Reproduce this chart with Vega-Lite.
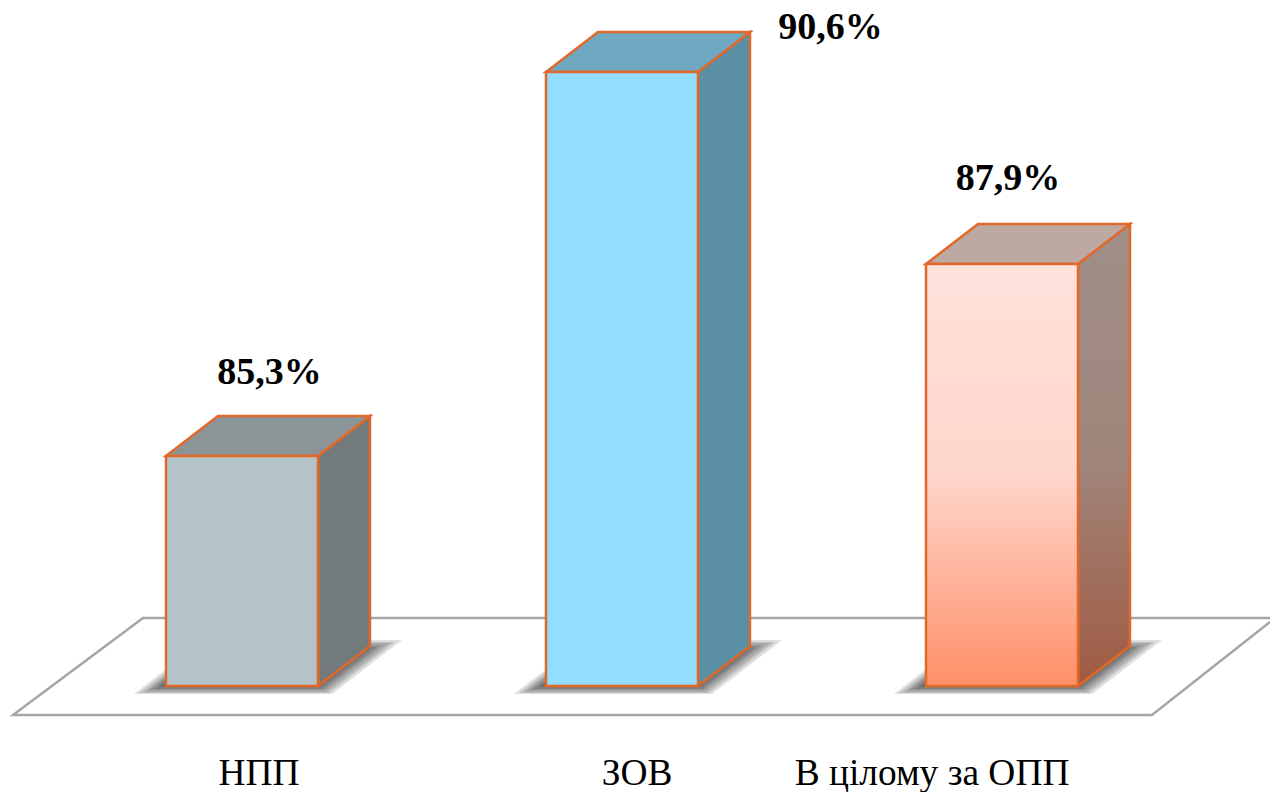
{"$schema":"https://vega.github.io/schema/vega-lite/v6.json","width":1270,"height":792,"padding":0,"autosize":{"type":"none"},"background":"white","config":{"view":{"stroke":null}},
"datasets":{
"floor":[{"o":1,"x":3.7053,"y":83.064},{"o":2,"x":0.7395,"y":83.064},{"o":3,"x":0.3974,"y":81.725},{"o":4,"x":3.3947,"y":81.725},{"o":5,"x":3.7053,"y":83.009}],
"shadow":[
{"ring":"1a","y":82.015,"left":0.7158,"right":1.2368},{"ring":"1a","y":82.76,"left":0.9,"right":1.4211},
{"ring":"1b","y":82.029,"left":0.7289,"right":1.2289},{"ring":"1b","y":82.733,"left":0.9026,"right":1.4026},
{"ring":"1c","y":82.043,"left":0.7421,"right":1.2211},{"ring":"1c","y":82.719,"left":0.9105,"right":1.3895},
{"ring":"1d","y":82.07,"left":0.7553,"right":1.2158},{"ring":"1d","y":82.691,"left":0.9092,"right":1.3697},
{"ring":"1e","y":82.084,"left":0.7684,"right":1.2105},{"ring":"1e","y":82.664,"left":0.9121,"right":1.3542},
{"ring":"1f","y":82.112,"left":0.7816,"right":1.2053},{"ring":"1f","y":82.65,"left":0.915,"right":1.3387},
{"ring":"2a","y":82.015,"left":1.7158,"right":2.2368},{"ring":"2a","y":82.76,"left":1.9,"right":2.4211},
{"ring":"2b","y":82.029,"left":1.7289,"right":2.2289},{"ring":"2b","y":82.733,"left":1.9026,"right":2.4026},
{"ring":"2c","y":82.043,"left":1.7421,"right":2.2211},{"ring":"2c","y":82.719,"left":1.9105,"right":2.3895},
{"ring":"2d","y":82.07,"left":1.7553,"right":2.2158},{"ring":"2d","y":82.691,"left":1.9092,"right":2.3697},
{"ring":"2e","y":82.084,"left":1.7684,"right":2.2105},{"ring":"2e","y":82.664,"left":1.9121,"right":2.3542},
{"ring":"2f","y":82.112,"left":1.7816,"right":2.2053},{"ring":"2f","y":82.65,"left":1.915,"right":2.3387},
{"ring":"3a","y":82.015,"left":2.7158,"right":3.2368},{"ring":"3a","y":82.76,"left":2.9,"right":3.4211},
{"ring":"3b","y":82.029,"left":2.7289,"right":3.2289},{"ring":"3b","y":82.733,"left":2.9026,"right":3.4026},
{"ring":"3c","y":82.043,"left":2.7421,"right":3.2211},{"ring":"3c","y":82.719,"left":2.9105,"right":3.3895},
{"ring":"3d","y":82.07,"left":2.7553,"right":3.2158},{"ring":"3d","y":82.691,"left":2.9092,"right":3.3697},
{"ring":"3e","y":82.084,"left":2.7684,"right":3.2105},{"ring":"3e","y":82.664,"left":2.9121,"right":3.3542},
{"ring":"3f","y":82.112,"left":2.7816,"right":3.2053},{"ring":"3f","y":82.65,"left":2.915,"right":3.3387}],
"front":[{"bar":"НПП","left":0.8,"right":1.2,"base":82.125,"top":85.3},{"bar":"ЗОВ","left":1.8,"right":2.2,"base":82.125,"top":90.6},{"bar":"В цілому за ОПП","left":2.8,"right":3.2,"base":82.125,"top":87.95}],
"side":[{"bar":"НПП","x":1.2,"lo":82.125,"hi":85.3},{"bar":"НПП","x":1.3368,"lo":82.677,"hi":85.852},{"bar":"ЗОВ","x":2.2,"lo":82.125,"hi":90.6},{"bar":"ЗОВ","x":2.3368,"lo":82.677,"hi":91.152},{"bar":"В цілому за ОПП","x":3.2,"lo":82.125,"hi":87.95},{"bar":"В цілому за ОПП","x":3.3368,"lo":82.677,"hi":88.502}],
"roof":[{"bar":"НПП","y":85.3,"left":0.8,"right":1.2},{"bar":"НПП","y":85.852,"left":0.9368,"right":1.3368},{"bar":"ЗОВ","y":90.6,"left":1.8,"right":2.2},{"bar":"ЗОВ","y":91.152,"left":1.9368,"right":2.3368},{"bar":"В цілому за ОПП","y":87.95,"left":2.8,"right":3.2},{"bar":"В цілому за ОПП","y":88.502,"left":2.9368,"right":3.3368}],
"values":[{"label":"85,3%","x":1.0724,"y":86.29},{"label":"90,6%","x":2.5487,"y":91.056},{"label":"87,9%","x":3.0158,"y":88.968}],
"cats":[{"label":"НПП","x":1.0447,"y":80.759},{"label":"ЗОВ","x":2.0395,"y":80.759},{"label":"В цілому за ОПП","x":2.8158,"y":80.759}]
},
"layer":[
{"data":{"name":"floor"},"mark":{"type":"line","color":"#A6A6A6","strokeWidth":2.5,"strokeJoin":"miter"},"encoding":{"x":{"field":"x","type":"quantitative","axis":null,"scale":{"domain":[0.36316,3.70526],"nice":false,"zero":false}},"y":{"field":"y","type":"quantitative","axis":null,"scale":{"domain":[80.662,91.594],"nice":false,"zero":false}},"order":{"field":"o","type":"quantitative"}}},
{"data":{"name":"shadow"},"mark":{"type":"area","orient":"horizontal","color":"#000000","opacity":0.13},"encoding":{"y":{"field":"y","type":"quantitative"},"x":{"field":"left","type":"quantitative"},"x2":{"field":"right"},"detail":{"field":"ring"}}},
{"data":{"name":"side"},"transform":[{"filter":"datum.bar==='НПП'"}],"mark":{"type":"area","color":"#727A7C","stroke":"#E2682A","strokeWidth":2.5},"encoding":{"x":{"field":"x","type":"quantitative"},"y":{"field":"lo","type":"quantitative"},"y2":{"field":"hi"}}},
{"data":{"name":"side"},"transform":[{"filter":"datum.bar==='ЗОВ'"}],"mark":{"type":"area","color":"#5B8FA3","stroke":"#E2682A","strokeWidth":2.5},"encoding":{"x":{"field":"x","type":"quantitative"},"y":{"field":"lo","type":"quantitative"},"y2":{"field":"hi"}}},
{"data":{"name":"side"},"transform":[{"filter":"datum.bar==='В цілому за ОПП'"}],"mark":{"type":"area","stroke":"#E2682A","strokeWidth":2.5,"color":{"gradient":"linear","x1":0,"y1":0,"x2":0,"y2":1,"stops":[{"offset":0,"color":"#A08E88"},{"offset":0.5,"color":"#A0867C"},{"offset":1,"color":"#A05A42"}]}},"encoding":{"x":{"field":"x","type":"quantitative"},"y":{"field":"lo","type":"quantitative"},"y2":{"field":"hi"}}},
{"data":{"name":"roof"},"transform":[{"filter":"datum.bar==='НПП'"}],"mark":{"type":"area","orient":"horizontal","color":"#8B9597","stroke":"#E2682A","strokeWidth":2.5},"encoding":{"y":{"field":"y","type":"quantitative"},"x":{"field":"left","type":"quantitative"},"x2":{"field":"right"}}},
{"data":{"name":"roof"},"transform":[{"filter":"datum.bar==='ЗОВ'"}],"mark":{"type":"area","orient":"horizontal","color":"#6EA8C1","stroke":"#E2682A","strokeWidth":2.5},"encoding":{"y":{"field":"y","type":"quantitative"},"x":{"field":"left","type":"quantitative"},"x2":{"field":"right"}}},
{"data":{"name":"roof"},"transform":[{"filter":"datum.bar==='В цілому за ОПП'"}],"mark":{"type":"area","orient":"horizontal","color":"#BEA8A2","stroke":"#E2682A","strokeWidth":2.5},"encoding":{"y":{"field":"y","type":"quantitative"},"x":{"field":"left","type":"quantitative"},"x2":{"field":"right"}}},
{"data":{"name":"front"},"transform":[{"filter":"datum.bar==='НПП'"}],"mark":{"type":"rect","color":"#B4C3C8","stroke":"#E2682A","strokeWidth":2.5},"encoding":{"x":{"field":"left","type":"quantitative"},"x2":{"field":"right"},"y":{"field":"top","type":"quantitative"},"y2":{"field":"base"}}},
{"data":{"name":"front"},"transform":[{"filter":"datum.bar==='ЗОВ'"}],"mark":{"type":"rect","color":"#93DDFF","stroke":"#E2682A","strokeWidth":2.5},"encoding":{"x":{"field":"left","type":"quantitative"},"x2":{"field":"right"},"y":{"field":"top","type":"quantitative"},"y2":{"field":"base"}}},
{"data":{"name":"front"},"transform":[{"filter":"datum.bar==='В цілому за ОПП'"}],"mark":{"type":"rect","stroke":"#E2682A","strokeWidth":2.5,"color":{"gradient":"linear","x1":0,"y1":0,"x2":0,"y2":1,"stops":[{"offset":0,"color":"#FFE1DB"},{"offset":0.5,"color":"#FFD6CB"},{"offset":0.7,"color":"#FFB9A3"},{"offset":1,"color":"#FF9068"}]}},"encoding":{"x":{"field":"left","type":"quantitative"},"x2":{"field":"right"},"y":{"field":"top","type":"quantitative"},"y2":{"field":"base"}}},
{"data":{"name":"values"},"mark":{"type":"text","font":"Liberation Serif","fontSize":38,"fontWeight":"bold","color":"#000000","align":"center","baseline":"alphabetic"},"encoding":{"x":{"field":"x","type":"quantitative"},"y":{"field":"y","type":"quantitative"},"text":{"field":"label"}}},
{"data":{"name":"cats"},"mark":{"type":"text","font":"Liberation Serif","fontSize":37.4,"color":"#000000","align":"center","baseline":"alphabetic"},"encoding":{"x":{"field":"x","type":"quantitative"},"y":{"field":"y","type":"quantitative"},"text":{"field":"label"}}}
]}
